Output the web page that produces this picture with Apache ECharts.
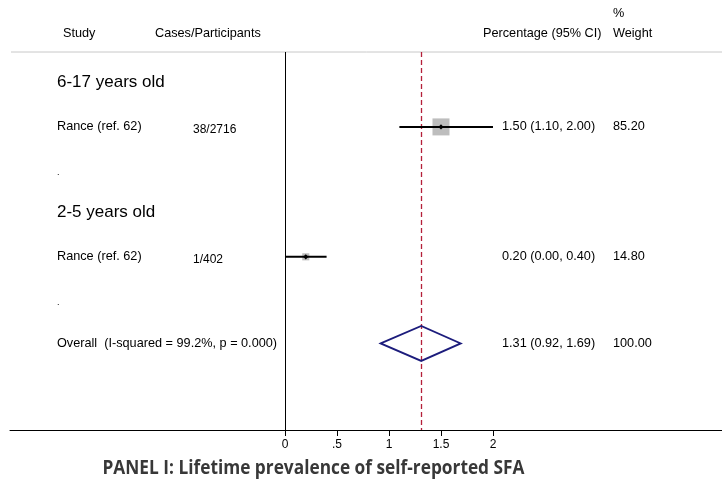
<!DOCTYPE html>
<html><head><meta charset="utf-8">
<script src="https://cdn.jsdelivr.net/npm/echarts@6/dist/echarts.min.js"></script>
<style>html,body{margin:0;padding:0;background:#fff}#c{width:722px;height:481px}</style>
</head><body><div id="c"></div>
<script>
// ---- data ----
const groupLabels = ['6-17 years old', '2-5 years old'];
const groupRows = [1, 4];
const studyNames = ['Rance (ref. 62)', 'Rance (ref. 62)'];
const studyCases = ['38/2716', '1/402'];
const studyRows = [2, 5];
const studyEst = [1.50, 0.20];
const studyLo = [1.10, 0.00];
const studyHi = [2.00, 0.40];
const studyWeight = [85.20, 14.80];
const dotRows = [3, 6];
const overallLabel = 'Overall  (I-squared = 99.2%, p = 0.000)';
const overallRow = 7;
const overallEst = 1.31, overallLo = 0.92, overallHi = 1.69, overallWeight = 100.00;
const xTicks = [0, 0.5, 1, 1.5, 2];
const xTickLabels = ['0', '.5', '1', '1.5', '2'];
const nullValue = 0;

const FONT = '"Liberation Sans", Arial, sans-serif';
const TXT = '12.7px ' + FONT;
const COL_STUDY = 57, COL_CASES = 193, COL_CI = 502, COL_W = 613;
const maxBox = 17;
const Y_MIN = 0.27, Y_MAX = 9;

function fmt(v){ return v.toFixed(2); }

const studyData = studyRows.map((r,i)=>[studyEst[i], r, studyLo[i], studyHi[i], studyWeight[i], i]);

const chart = echarts.init(document.getElementById('c'), null, {renderer:'canvas'});
chart.setOption({
  animation:false,
  grid:{left:10, right:0, top:52, bottom:51},
  xAxis:{type:'value', min:-2.644, max:4.202,
    splitLine:{show:false},
    axisLine:{show:true, onZero:false, lineStyle:{color:'#000', width:1}},
    axisTick:{show:true, customValues:xTicks, length:6, lineStyle:{color:'#000'}},
    axisLabel:{show:true, customValues:xTicks, margin:9, color:'#000', fontSize:12, fontFamily:FONT,
      formatter:(v)=>{ const k = xTicks.findIndex(t=>Math.abs(t-v)<1e-9); return k>=0?xTickLabels[k]:''; }}
  },
  yAxis:{type:'value', inverse:true, min:Y_MIN, max:Y_MAX, show:false},
  graphic:[
    {type:'line', shape:{x1:11,y1:52,x2:722,y2:52}, style:{stroke:'#c8c8c8', lineWidth:1}},
    {type:'text', x:63, y:33, style:{text:'Study', font:TXT, fill:'#000', verticalAlign:'middle'}},
    {type:'text', x:155, y:33, style:{text:'Cases/Participants', font:TXT, fill:'#000', verticalAlign:'middle'}},
    {type:'text', x:483, y:33, style:{text:'Percentage (95% CI)', font:TXT, fill:'#000', verticalAlign:'middle'}},
    {type:'text', x:613, y:13, style:{text:'%', font:TXT, fill:'#000', verticalAlign:'middle'}},
    {type:'text', x:613, y:33, style:{text:'Weight', font:TXT, fill:'#000', verticalAlign:'middle'}},
    {type:'text', x:313.5, y:469, scaleX:0.91, originX:0, originY:0,
      style:{text:'PANEL I: Lifetime prevalence of self-reported SFA', font:'bold 19px "Open Sans", sans-serif', fill:'#383838', align:'center', verticalAlign:'middle'}}
  ],
  series:[
    { // reference lines: null (0) and overall estimate
      type:'custom', silent:true, z:1,
      data:[[nullValue, 0], [overallEst, 1]],
      renderItem:(params, api)=>{
        const v = api.value(0), k = api.value(1);
        const p1 = api.coord([v, Y_MIN]), p2 = api.coord([v, Y_MAX]);
        const x = Math.round(p1[0]) + 0.5;
        return {type:'line', shape:{x1:x, y1:p1[1], x2:x, y2:p2[1]},
          style: k===0 ? {stroke:'#000', lineWidth:1} : {stroke:'#b4203a', lineWidth:1.3, lineDash:[5,3]}};
      }
    },
    { // group labels and dots
      type:'custom', silent:true,
      data: groupRows.map((r,i)=>[0, r, i]),
      renderItem:(params, api)=>{
        const i = api.value(2);
        const y = api.coord([0, api.value(1)])[1];
        const yd = api.coord([0, dotRows[i]])[1];
        return {type:'group', children:[
          {type:'text', x:COL_STUDY, y:y-1, style:{text:groupLabels[i], font:'17px '+FONT, fill:'#000', verticalAlign:'middle'}},
          {type:'text', x:COL_STUDY, y:yd+2, style:{text:'.', font:'9px '+FONT, fill:'#000', verticalAlign:'middle'}}
        ]};
      }
    },
    { // studies
      type:'custom', silent:true, z:3,
      data: studyData,
      renderItem:(params, api)=>{
        const est = api.value(0), row = api.value(1), lo = api.value(2), hi = api.value(3), w = api.value(4), i = api.value(5);
        const c = api.coord([est, row]);
        const pl = api.coord([lo, row]);
        const ph = api.coord([hi, row]);
        const s = maxBox*Math.sqrt(w/Math.max(...studyWeight));
        const d = 2.6;
        return {type:'group', children:[
          {type:'rect', shape:{x:c[0]-s/2, y:c[1]-s/2, width:s, height:s}, style:{fill:'#bdbdbd'}},
          {type:'line', shape:{x1:pl[0], y1:c[1], x2:ph[0], y2:c[1]}, style:{stroke:'#000', lineWidth:2}},
          {type:'polygon', shape:{points:[[c[0]-d,c[1]],[c[0],c[1]-d],[c[0]+d,c[1]],[c[0],c[1]+d]]}, style:{fill:'#000'}},
          {type:'text', x:COL_STUDY, y:c[1], style:{text:studyNames[i], font:TXT, fill:'#000', verticalAlign:'middle'}},
          {type:'text', x:COL_CASES, y:c[1]+3, style:{text:studyCases[i], font:'12px '+FONT, fill:'#000', verticalAlign:'middle'}},
          {type:'text', x:COL_CI, y:c[1], style:{text:fmt(est)+' ('+fmt(lo)+', '+fmt(hi)+')', font:TXT, fill:'#000', verticalAlign:'middle'}},
          {type:'text', x:COL_W, y:c[1], style:{text:fmt(w), font:TXT, fill:'#000', verticalAlign:'middle'}}
        ]};
      }
    },
    { // overall
      type:'custom', silent:true, z:3,
      data:[[overallEst, overallRow, overallLo, overallHi, overallWeight]],
      renderItem:(params, api)=>{
        const est = api.value(0), row = api.value(1), lo = api.value(2), hi = api.value(3), w = api.value(4);
        const c = api.coord([est,row]), pl = api.coord([lo,row]), ph = api.coord([hi,row]);
        const h = 17.5;
        return {type:'group', children:[
          {type:'polygon', shape:{points:[[pl[0],c[1]],[c[0],c[1]-h],[ph[0],c[1]],[c[0],c[1]+h]]}, style:{fill:'none', stroke:'#1c1c7c', lineWidth:1.8}},
          {type:'text', x:COL_STUDY, y:c[1], style:{text:overallLabel, font:TXT, fill:'#000', verticalAlign:'middle'}},
          {type:'text', x:COL_CI, y:c[1], style:{text:fmt(est)+' ('+fmt(lo)+', '+fmt(hi)+')', font:TXT, fill:'#000', verticalAlign:'middle'}},
          {type:'text', x:COL_W, y:c[1], style:{text:fmt(w), font:TXT, fill:'#000', verticalAlign:'middle'}}
        ]};
      }
    }
  ]
});
</script></body></html>
